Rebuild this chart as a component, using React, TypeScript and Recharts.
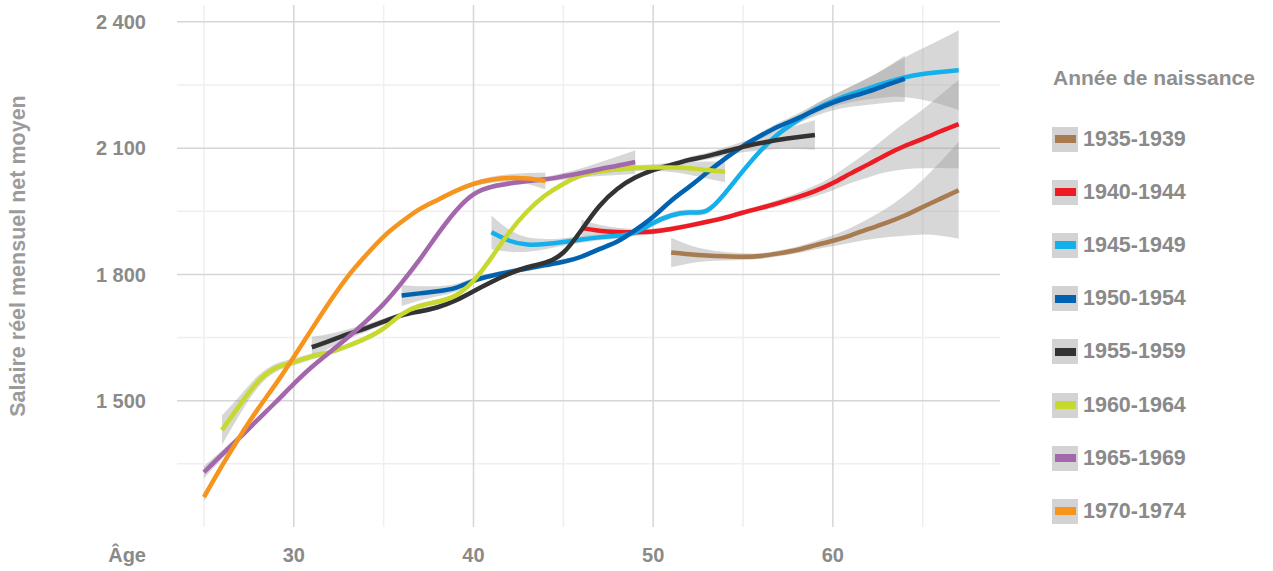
import React from 'react';
import { ComposedChart, Line, Area, XAxis, YAxis, CartesianGrid } from 'recharts';

const cohorts = ['1935-1939', '1940-1944', '1945-1949', '1950-1954', '1955-1959', '1960-1964', '1965-1969', '1970-1974'];
const cohortColors = ['#a87c50', '#ed1c24', '#13b0ec', '#0062b1', '#333333', '#c6d92c', '#a367ab', '#f7941d'];
const startAges = [51, 46, 41, 36, 31, 26, 25, 25];

// salaire moyen par âge
const salary1935 = [1852, 1848, 1845, 1843, 1842, 1844, 1850, 1858, 1869, 1880, 1893, 1908, 1923, 1940, 1960, 1980, 2000];
const salary1940 = [1910, 1904, 1901, 1900, 1902, 1908, 1916, 1925, 1935, 1947, 1958, 1970, 1983, 1998, 2017, 2040, 2062, 2085, 2105, 2122, 2140, 2157];
const salary1945 = [1900, 1880, 1871, 1872, 1877, 1883, 1888, 1892, 1900, 1922, 1940, 1947, 1952, 1993, 2046, 2095, 2135, 2165, 2192, 2212, 2228, 2242, 2256, 2268, 2276, 2281, 2285];
const salary1950 = [1750, 1755, 1760, 1768, 1785, 1797, 1806, 1814, 1822, 1830, 1842, 1860, 1878, 1905, 1937, 1975, 2008, 2042, 2075, 2105, 2130, 2152, 2170, 2190, 2208, 2222, 2235, 2250, 2265];
const salary1955 = [1627, 1642, 1658, 1672, 1688, 1703, 1712, 1722, 1738, 1760, 1782, 1802, 1817, 1828, 1852, 1905, 1962, 2003, 2030, 2048, 2060, 2072, 2081, 2092, 2103, 2112, 2120, 2126, 2131];
const salary1960 = [1430, 1490, 1545, 1578, 1592, 1605, 1615, 1630, 1648, 1672, 1705, 1725, 1735, 1750, 1785, 1840, 1900, 1950, 1988, 2015, 2035, 2045, 2050, 2053, 2054, 2054, 2052, 2048, 2044];
const salary1965 = [1330, 1372, 1413, 1455, 1497, 1540, 1580, 1615, 1650, 1688, 1730, 1780, 1835, 1895, 1950, 1990, 2008, 2016, 2022, 2026, 2033, 2041, 2050, 2058, 2067];
const salary1970 = [1271, 1345, 1415, 1480, 1540, 1604, 1670, 1735, 1795, 1845, 1890, 1925, 1955, 1977, 1998, 2015, 2025, 2029, 2028, 2022];

// demi-largeur de l'intervalle de confiance
const band1935 = [35, 22, 14, 10, 8, 7, 7, 8, 10, 13, 18, 25, 35, 48, 65, 88, 115];
const band1940 = [20, 14, 10, 8, 7, 6, 6, 6, 6, 6, 7, 8, 10, 13, 17, 23, 31, 42, 55, 70, 87, 105];
const band1945 = [40, 26, 17, 12, 9, 8, 7, 7, 7, 7, 7, 7, 7, 7, 7, 7, 8, 9, 11, 14, 19, 26, 35, 47, 61, 77, 95];
const band1950 = [25, 17, 12, 9, 7, 6, 6, 6, 6, 6, 6, 6, 6, 6, 6, 6, 6, 6, 6, 7, 8, 9, 11, 14, 18, 24, 32, 42, 55];
const band1955 = [25, 17, 12, 9, 7, 6, 6, 6, 6, 6, 6, 6, 6, 6, 6, 6, 6, 6, 6, 6, 6, 7, 8, 10, 13, 17, 22, 28, 35];
const band1960 = [35, 22, 14, 10, 8, 7, 6, 6, 6, 6, 6, 6, 6, 6, 6, 6, 6, 6, 6, 6, 6, 6, 6, 7, 8, 11, 15, 20, 25];
const band1965 = [15, 10, 8, 7, 6, 6, 6, 6, 6, 6, 6, 6, 6, 6, 6, 6, 6, 6, 6, 6, 8, 11, 16, 22, 28];
const band1970 = [10, 8, 7, 6, 6, 6, 6, 6, 6, 6, 6, 6, 6, 6, 6, 6, 7, 9, 13, 20];

const majorAgeLines = [30, 40, 50, 60];
const minorAgeLines = [25, 35, 45, 55, 65];
const majorSalaryLines = [1500, 1800, 2100, 2400];
const minorSalaryLines = [1350, 1650, 1950, 2250];

const salaries = [salary1935, salary1940, salary1945, salary1950, salary1955, salary1960, salary1965, salary1970];
const bands = [band1935, band1940, band1945, band1950, band1955, band1960, band1965, band1970];

const series = cohorts.map((name, i) => ({
  name,
  key: 'c' + i,
  color: cohortColors[i],
  start: startAges[i],
  values: salaries[i],
  band: bands[i],
}));

const rows: any[] = [];
for (let age = 25; age <= 67; age++) {
  const row: any = { age };
  series.forEach((s) => {
    const idx = age - s.start;
    if (idx >= 0 && idx < s.values.length) {
      row[s.key] = s.values[idx];
      row[s.key + 'b'] = [s.values[idx] - s.band[idx], s.values[idx] + s.band[idx]];
    }
  });
  rows.push(row);
}

const font = '"Liberation Sans", Arial, sans-serif';
const textGray = '#8a8a8a';
const fmt = (v: number) => {
  const s = String(v);
  return s.length > 3 ? s.slice(0, s.length - 3) + ' ' + s.slice(-3) : s;
};

export default function App() {
  return (
    <div style={{ position: 'absolute', left: 0, top: 0, width: 1273, height: 571, fontFamily: font, background: '#fff' }}>
      <ComposedChart width={1273} height={571} data={rows} margin={{ top: 5, right: 273, bottom: 0, left: 0 }}>
        <XAxis
          dataKey="age"
          type="number"
          domain={[23.5, 69.3]}
          allowDataOverflow
          ticks={majorAgeLines}
          axisLine={false}
          tickLine={false}
          tickMargin={15}
          height={44}
          tick={{ fill: textGray, fontSize: 20, fontWeight: 700, fontFamily: font }}
        />
        <YAxis
          type="number"
          domain={[1200, 2440]}
          allowDataOverflow
          ticks={majorSalaryLines}
          axisLine={false}
          tickLine={false}
          tickMargin={25}
          width={177}
          tickFormatter={fmt}
          tick={{ fill: textGray, fontSize: 20, fontWeight: 700, fontFamily: font }}
        />
        <CartesianGrid verticalValues={minorAgeLines} horizontalValues={minorSalaryLines} stroke="#efefef" strokeWidth={1.5} />
        <CartesianGrid verticalValues={majorAgeLines} horizontalValues={majorSalaryLines} stroke="#d6d6d6" strokeWidth={1.5} />
        {series.map((s) => (
          <Area
            key={s.key + 'b'}
            dataKey={s.key + 'b'}
            type="natural"
            stroke="none"
            fill="#9a9a9a"
            fillOpacity={0.4}
            isAnimationActive={false}
            activeDot={false}
          />
        ))}
        {series.map((s) => (
          <Line
            key={s.key}
            dataKey={s.key}
            name={s.name}
            type="natural"
            stroke={s.color}
            strokeWidth={4.5}
            dot={false}
            activeDot={false}
            isAnimationActive={false}
          />
        ))}
      </ComposedChart>

      <div
        style={{
          position: 'absolute', left: 18, top: 256, transform: 'translate(-50%, -50%) rotate(-90deg)',
          whiteSpace: 'nowrap', fontSize: 21.5, fontWeight: 700, color: '#9b9b9b',
        }}
      >
        Salaire réel mensuel net moyen
      </div>
      <div style={{ position: 'absolute', left: 0, width: 146, top: 543, lineHeight: '24px', textAlign: 'right', fontSize: 20, fontWeight: 700, color: textGray }}>
        Âge
      </div>

      <div style={{ position: 'absolute', left: 1053, top: 66, lineHeight: '24px', fontSize: 21, fontWeight: 700, color: '#8f8f8f', whiteSpace: 'nowrap' }}>
        Année de naissance
      </div>
      {series.map((s, i) => {
        const cy = 139 + i * 53.2;
        return (
          <div key={s.key} style={{ position: 'absolute', left: 1052, top: cy - 12.5, height: 25, display: 'flex', alignItems: 'center' }}>
            <div style={{ width: 26, height: 25, background: '#d3d3d3', display: 'flex', alignItems: 'center', justifyContent: 'center' }}>
              <div style={{ width: 21, height: 8, background: s.color }} />
            </div>
            <span style={{ marginLeft: 5, fontSize: 21.5, fontWeight: 700, color: textGray, whiteSpace: 'nowrap' }}>{s.name}</span>
          </div>
        );
      })}
    </div>
  );
}
